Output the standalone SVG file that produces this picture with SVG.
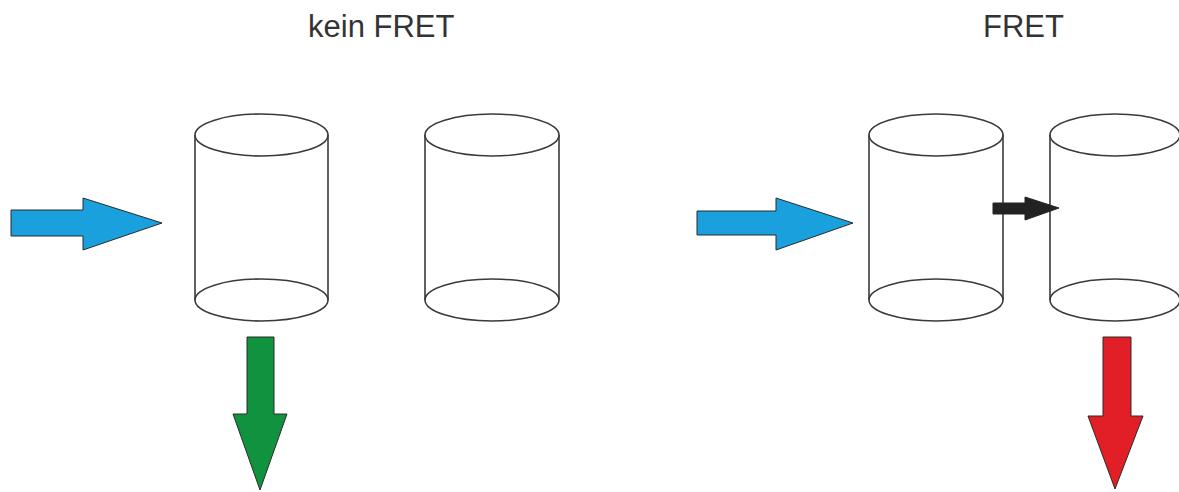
<svg xmlns="http://www.w3.org/2000/svg" width="1179" height="492" viewBox="0 0 1179 492">
  <defs>
    <style>
      .title { font-family: "Liberation Sans", Arial, sans-serif; font-size: 31px; fill: #333333; }
      .cyl ellipse, .cyl line { fill: none; stroke: #3a3a3a; stroke-width: 1.6; }
      .arrow { stroke: #2b2b2b; stroke-width: 1; stroke-linejoin: miter; }
      .blue { fill: #1aa0dd; }
      .green { fill: #10923f; }
      .red { fill: #e21e26; }
      .black { fill: #222222; stroke: #222222; }
    </style>
  </defs>
  <rect width="1179" height="492" fill="#ffffff"/>

  <text class="title" x="308" y="37">kein FRET</text>
  <text class="title" x="983" y="37">FRET</text>

  <!-- cylinders: rx 67, ry 21, top at 135, bottom at 300 -->
  <g id="cyl-1" class="cyl">
    <line x1="195" y1="135" x2="195" y2="300"/>
    <line x1="328" y1="135" x2="328" y2="300"/>
    <ellipse cx="261.5" cy="135" rx="66.5" ry="21"/>
    <ellipse cx="261.5" cy="300" rx="66.5" ry="21"/>
  </g>
  <g id="cyl-2" class="cyl">
    <line x1="425" y1="135" x2="425" y2="300"/>
    <line x1="559" y1="135" x2="559" y2="300"/>
    <ellipse cx="492" cy="135" rx="67" ry="21"/>
    <ellipse cx="492" cy="300" rx="67" ry="21"/>
  </g>
  <g id="cyl-3" class="cyl">
    <line x1="869" y1="135" x2="869" y2="300"/>
    <line x1="1003" y1="135" x2="1003" y2="300"/>
    <ellipse cx="936" cy="135" rx="67" ry="21"/>
    <ellipse cx="936" cy="300" rx="67" ry="21"/>
  </g>
  <g id="cyl-4" class="cyl">
    <line x1="1050" y1="135" x2="1050" y2="300"/>
    <ellipse cx="1115" cy="135" rx="65" ry="21"/>
    <ellipse cx="1115" cy="300" rx="65" ry="21"/>
  </g>

  <g id="connectors">
    <!-- excitation light -->
    <polygon class="arrow blue" points="11,210 83,210 83,198 162,223 83,250 83,236 11,236"/>
    <polygon class="arrow blue" points="697,211 776,211 776,198 853,223 776,250 776,235 697,235"/>
    <!-- energy transfer -->
    <polygon class="arrow black" points="993,203 1025,203 1025,197 1059,208 1025,220 1025,214 993,214"/>
    <!-- emission -->
    <polygon class="arrow green" points="247,337 274,337 274,414 287,414 260,490 233,414 247,414"/>
    <polygon class="arrow red" points="1103,337 1131,337 1131,416 1143,416 1115,489 1088,416 1103,416"/>
  </g>
</svg>
